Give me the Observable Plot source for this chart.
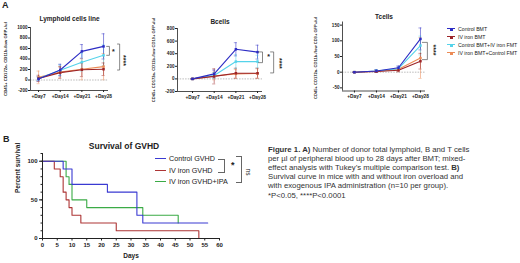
<!DOCTYPE html>
<html><head><meta charset="utf-8">
<script src="https://cdn.jsdelivr.net/npm/d3@7"></script>
<script src="https://cdn.jsdelivr.net/npm/@observablehq/plot@0.6"></script>
<style>
html,body{margin:0;padding:0;background:#fff;}
#fig{position:relative;width:520px;height:263px;overflow:hidden;font-family:"Liberation Sans",Arial,sans-serif;color:#222;}
#fig svg{position:absolute;left:0;top:0;}
.abs{position:absolute;white-space:nowrap;}
.panel{font-weight:bold;font-size:9px;}
.legA{font-size:5.2px;line-height:6px;}
.legB{font-size:7.2px;line-height:8px;}
.sw{position:absolute;height:0;}
.cap{font-size:7.75px;line-height:9.2px;color:#333;}
.brk{position:absolute;border:0.8px solid #666;border-left:none;}
.ylab{font-weight:bold;line-height:5px;transform:translate(-50%,-50%) rotate(-90deg);color:#222;}
</style></head><body><div id="fig"></div>
<script>
// ---------- data ----------
const days = [7, 14, 21, 28];
const dayLabels = ["+Day7", "+Day14", "+Day21", "+Day28"];
const groupsA = ["Control BMT", "IV iron BMT", "Control BMT+IV iron FMT", "IV iron BMT+Control FMT"];
const colorsA = ["#2c2cc4", "#9c2428", "#55d3ea", "#ec8b55"];

// Lymphoid cells line (mean, error)
const lymphControl = [20, 190, 545, 640];
const lymphIron = [30, 140, 195, 205];
const lymphCtrlFmt = [30, 185, 340, 470];
const lymphIronFmt = [50, 150, 205, 255];
const lymphControlErr = [40, 110, 130, 240];
const lymphIronErr = [60, 110, 130, 120];
const lymphCtrlFmtErr = [40, 100, 170, 200];
const lymphIronFmtErr = [120, 110, 200, 250];

// B cells
const bControl = [0, 80, 470, 425];
const bIron = [0, 40, 90, 90];
const bCtrlFmt = [0, 55, 275, 275];
const bIronFmt = [0, 45, 80, 85];
const bControlErr = [5, 60, 105, 110];
const bIronErr = [5, 120, 80, 80];
const bCtrlFmtErr = [5, 45, 110, 100];
const bIronFmtErr = [5, 60, 70, 75];

// T cells
const tControl = [0, 4, 14, 106];
const tIron = [0, 2, 6, 35];
const tCtrlFmt = [0, 4, 11, 85];
const tIronFmt = [0, 3, 9, 45];
const tControlErr = [1, 4, 6, 35];
const tIronErr = [1, 3, 5, 25];
const tCtrlFmtErr = [1, 4, 6, 30];
const tIronFmtErr = [1, 4, 6, 65];

// significance annotations (days, values)
const lymphBrackets = [{x0: 29.0, x1: 29.9, y0: 640, y1: 470}, {x0: 32.5, x1: 33.2, y0: 685, y1: 190}];
const lymphStars = [{x: 31.2, y: 540, text: "*", rotate: 0}, {x: 34.5, y: 370, text: "****", rotate: 90}];
const bBrackets = [{x0: 28.3, x1: 29.6, y0: 428, y1: 258}, {x0: 32.2, x1: 33.2, y0: 428, y1: 95}];
const bStars = [{x: 31.6, y: 349, text: "*", rotate: 0}, {x: 34.9, y: 246, text: "****", rotate: 90}];
const tBrackets = [{x0: 28.6, x1: 30.2, y0: 95, y1: 40}];
const tStars = [{x: 32.1, y: 71, text: "****", rotate: 90}];

// Survival of GVHD
const survGroups = ["Control GVHD", "IV iron GVHD", "IV iron GVHD+IPA"];
const survColors = ["#3a3ad2", "#ad3535", "#3bab46"];
const ctrlGvhdDays = [0, 7, 10, 22, 32, 34, 56];
const ctrlGvhdPct = [100, 90, 70, 60, 30, 20, 20];
const ironGvhdDays = [0, 4, 6, 7, 8, 9, 10, 13, 25, 53];
const ironGvhdPct = [100, 90, 80, 60, 50, 40, 30, 20, 10, 0];
const ipaGvhdDays = [0, 8, 9, 10, 15, 34, 46];
const ipaGvhdPct = [100, 80, 70, 50, 40, 30, 20];
const survTicks = [0, 5, 10, 15, 20, 25, 30, 35, 40, 45, 50, 55, 60];

// ---------- drawing ----------
const W = 520, H = 263;
const FONT = "Liberation Sans, Arial, sans-serif";
const fig = document.getElementById("fig");

function buildRows(vals, errs) {
  const rows = [];
  [3, 2, 1, 0].forEach(gi => days.forEach((d, di) =>
    rows.push({group: groupsA[gi], day: d, mean: vals[gi][di], err: errs[gi][di]})));
  return rows;
}

function panelA(o) {
  const rows = buildRows(o.vals, o.errs);
  const bpts = o.brackets.flatMap((b, i) => [
    {id: i, x: b.x0, y: b.y0}, {id: i, x: b.x1, y: b.y0},
    {id: i, x: b.x1, y: b.y1}, {id: i, x: b.x0, y: b.y1}]);
  return Plot.plot({
    width: W, height: H,
    marginLeft: o.left, marginRight: W - o.right, marginTop: o.top, marginBottom: H - o.bottom,
    style: {background: "transparent", fontFamily: FONT, fontSize: "5px", color: "#222", overflow: "visible", maxWidth: "none"},
    x: {domain: o.xdom},
    y: {domain: o.ydom},
    color: {domain: groupsA, range: colorsA},
    marks: [
      Plot.ruleY([0], {stroke: "#aaa", strokeDasharray: "1.5,1.2", strokeWidth: 0.8}),
      Plot.ruleX(rows, {x: "day", y1: d => d.mean - d.err, y2: d => d.mean + d.err, stroke: "group", strokeOpacity: 0.55, strokeWidth: 1}),
      Plot.ruleY(rows, {y: d => d.mean + d.err, x1: d => d.day - 0.5, x2: d => d.day + 0.5, stroke: "group", strokeOpacity: 0.55, strokeWidth: 0.8}),
      Plot.ruleY(rows, {y: d => d.mean - d.err, x1: d => d.day - 0.5, x2: d => d.day + 0.5, stroke: "group", strokeOpacity: 0.55, strokeWidth: 0.8}),
      Plot.line(rows, {x: "day", y: "mean", stroke: "group", strokeWidth: 1.1}),
      Plot.dot(rows, {x: "day", y: "mean", fill: "group", symbol: "square", r: 1.4}),
      Plot.ruleX([o.xdom[0]], {stroke: "#222", strokeWidth: 0.8}),
      Plot.ruleY([o.ydom[0]], {stroke: "#222", strokeWidth: 0.8}),
      Plot.axisY({ticks: o.yticks, tickFormat: d => String(d), tickSize: 2, tickPadding: 1, label: null, fontWeight: "bold", fontSize: 4.6}),
      Plot.axisX({ticks: days, tickFormat: d => dayLabels[days.indexOf(d)], tickSize: 2, tickPadding: 2, label: null, fontWeight: "bold", fontSize: 4.8}),
      Plot.text([o.title], {frameAnchor: "top", dy: o.titleDy, fontWeight: "bold", fontSize: 6.5}),
      Plot.line(bpts, {x: "x", y: "y", z: "id", stroke: "#555", strokeWidth: 0.7}),
      Plot.text(o.stars, {x: "x", y: "y", text: "text", rotate: "rotate", fontWeight: "bold", fontSize: 7, fill: "#222"})
    ]
  });
}

fig.appendChild(panelA({
  left: 30, right: 108, top: 27, bottom: 90, xdom: [4.4, 29.6], ydom: [-200, 1000],
  yticks: [-200, 0, 200, 400, 600, 800, 1000],
  vals: [lymphControl, lymphIron, lymphCtrlFmt, lymphIronFmt],
  errs: [lymphControlErr, lymphIronErr, lymphCtrlFmtErr, lymphIronFmtErr],
  title: "Lymphoid cells line", titleDy: -11,
  brackets: lymphBrackets, stars: lymphStars
}));
fig.appendChild(panelA({
  left: 177, right: 262, top: 28, bottom: 91, xdom: [2.15, 29.6], ydom: [-200, 800],
  yticks: [-200, 0, 200, 400, 600, 800],
  vals: [bControl, bIron, bCtrlFmt, bIronFmt],
  errs: [bControlErr, bIronErr, bCtrlFmtErr, bIronFmtErr],
  title: "Bcells", titleDy: -9,
  brackets: bBrackets, stars: bStars
}));
fig.appendChild(panelA({
  left: 342, right: 425, top: 21.5, bottom: 90.5, xdom: [3.2, 29.6], ydom: [-60, 160],
  yticks: [-50, 0, 50, 100, 150],
  vals: [tControl, tIron, tCtrlFmt, tIronFmt],
  errs: [tControlErr, tIronErr, tCtrlFmtErr, tIronFmtErr],
  title: "Tcells", titleDy: -7.5,
  brackets: tBrackets, stars: tStars
}));

// survival
const survRows = [];
[[2, ipaGvhdDays, ipaGvhdPct], [1, ironGvhdDays, ironGvhdPct], [0, ctrlGvhdDays, ctrlGvhdPct]].forEach(([gi, ds, ps]) =>
  ds.forEach((d, i) => survRows.push({group: survGroups[gi], day: d, pct: ps[i]})));

fig.appendChild(Plot.plot({
  width: W, height: H,
  marginLeft: 42, marginRight: W - 219, marginTop: 153, marginBottom: H - 238,
  style: {background: "transparent", fontFamily: FONT, fontSize: "6px", color: "#222", overflow: "visible", maxWidth: "none"},
  x: {domain: [0, 60]},
  y: {domain: [0, 110]},
  color: {domain: survGroups, range: survColors},
  marks: [
    Plot.line(survRows, {x: "day", y: "pct", stroke: "group", curve: "step-after", strokeWidth: 1.1}),
    Plot.ruleX([0], {stroke: "#222", strokeWidth: 1}),
    Plot.ruleY([0], {stroke: "#222", strokeWidth: 1}),
    Plot.axisY({ticks: d3.range(0, 111, 10), tickFormat: () => "", tickSize: 1.5, label: null}),
    Plot.axisY({ticks: [0, 50, 100], tickSize: 3, tickPadding: 2, label: null, fontWeight: "bold", fontSize: 6}),
    Plot.axisX({ticks: survTicks, tickSize: 2.5, tickPadding: 1.5, label: null, fontWeight: "bold", fontSize: 6}),
    Plot.text(["Survival of GVHD"], {frameAnchor: "top", dy: -11, dx: -7, fontWeight: "bold", fontSize: 8.5}),
    Plot.text(["Days"], {frameAnchor: "bottom", dy: 19, fontWeight: "bold", fontSize: 6.5}),
    Plot.text(["Percent survival"], {frameAnchor: "left", rotate: -90, dx: -25, dy: -3, fontWeight: "bold", fontSize: 6.5})
  ]
}));

// ---------- HTML text: panel letters, axis titles, legends, caption ----------
function add(html, cls, left, top, extra) {
  const el = document.createElement("div");
  el.className = "abs " + cls;
  el.style.left = left + "px"; el.style.top = top + "px";
  if (extra) Object.assign(el.style, extra);
  el.innerHTML = html;
  fig.appendChild(el);
  return el;
}
add("A", "panel", 2, 0);
add("B", "panel", 3, 134);

// rotated y-axis titles of panel A
add("CD45+ CD172a- CD11b-/low GFP+/ul", "ylab", 5, 59, {fontSize: "4.3px"});
add("CD45+ CD172a- CD11b-/low CD19+ GFP+/ul", "ylab", 153, 60, {fontSize: "4.1px"});
add("CD45+ CD172a- CD11b-/low CD3+ GFP+/ul", "ylab", 315, 58, {fontSize: "4.1px"});

// legend A
groupsA.forEach((g, i) => {
  const cy = 29 + i * 8;
  add("", "sw", 447, cy - 0.6, {width: "8px", borderTop: "1.2px solid " + colorsA[i]});
  add("", "sw", 449.5, cy - 1.5, {width: "3px", height: "3px", background: colorsA[i]});
  add(g, "legA", 458, cy - 3);
});

// legend B
survGroups.forEach((g, i) => {
  const cy = 159 + i * 11.5;
  add("", "sw", 155, cy - 0.6, {width: "11px", borderTop: "1.2px solid " + survColors[i]});
  add(g, "legB", 169, cy - 4);
});
add("", "brk", 218, 159, {width: "6px", height: "12px"});
add("*", "legB", 231, 161, {fontWeight: "bold", fontSize: "9px"});
add("", "brk", 236, 156, {width: "5px", height: "25px"});
add("ns", "legB", 245, 168, {transform: "rotate(90deg)", fontSize: "6.5px"});

// caption
add("<b>Figure 1. A)</b> Number of donor total lymphoid, B and T cells<br>" +
    "per µl of peripheral blood up to 28 days after BMT; mixed-<br>" +
    "effect analysis with Tukey’s multiple comparison test. <b>B)</b><br>" +
    "Survival curve in mice with and without iron overload and<br>" +
    "with exogenous IPA administration (n=10 per group).<br>" +
    "*P&lt;0.05, ****P&lt;0.0001", "cap", 268, 144.5);
</script></body></html>
